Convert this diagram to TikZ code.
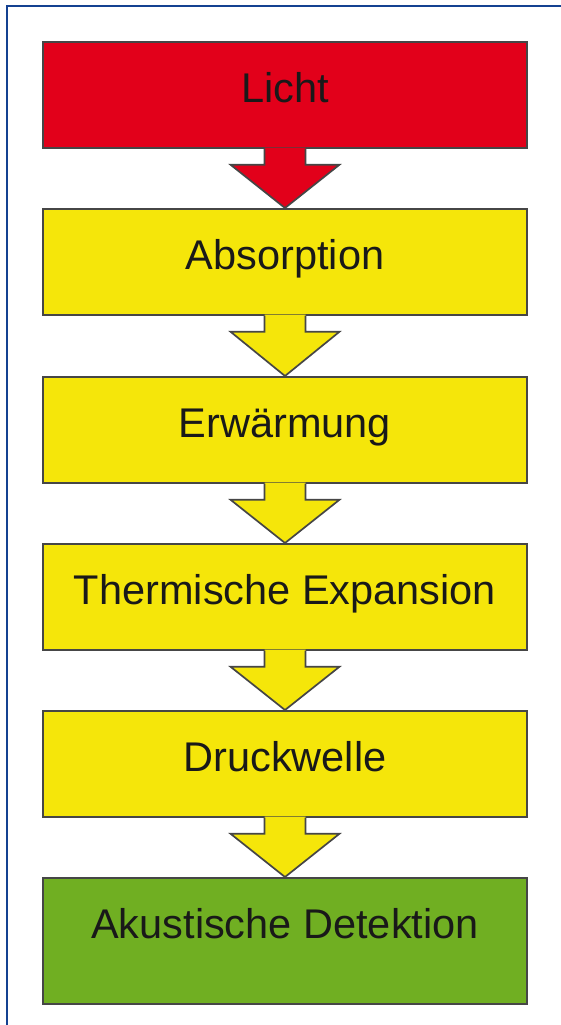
\documentclass[tikz,border=0pt]{standalone}
\usepackage{fontspec}
\setmainfont{Liberation Sans}
\usetikzlibrary{calc}
\definecolor{boxred}{RGB}{226,0,26}
\definecolor{boxyellow}{RGB}{245,230,10}
\definecolor{boxgreen}{RGB}{112,175,34}
\definecolor{framebl}{RGB}{20,65,145}
\definecolor{edgegray}{RGB}{70,70,70}
\definecolor{txt}{RGB}{25,25,25}
\newcommand{\blockarrow}[3]{%
  \path[fill=#3] ($(#1.south)+(-20.5,-1.2)$) -- ($(#1.south)+(-20.5,16)$) -- ($(#1.south)+(-54.5,16)$) -- (#2.north) -- ($(#1.south)+(54.5,16)$) -- ($(#1.south)+(20.5,16)$) -- ($(#1.south)+(20.5,-1.2)$) -- cycle;
  \draw[edge] ($(#1.south)+(-20.5,0)$) -- ($(#1.south)+(-20.5,16)$) -- ($(#1.south)+(-54.5,16)$) -- (#2.north) -- ($(#1.south)+(54.5,16)$) -- ($(#1.south)+(20.5,16)$) -- ($(#1.south)+(20.5,0)$);
}
\tikzset{
  stepbox/.style={draw=edgegray, line width=1.7pt, rectangle, anchor=north,
    minimum width=484pt, minimum height=106pt, inner sep=0pt,
    text height=61pt, text depth=45pt, text=txt,
    font=\fontsize{41.5}{48}\selectfont},
  edge/.style={draw=edgegray, line width=1.7pt, line join=miter},
  frame/.style={draw=framebl, line width=2.6pt}
}
\begin{document}
\begin{tikzpicture}[x=1pt,y=-1pt]
\useasboundingbox (0,0) rectangle (560,1025);
\fill[white] (0,0) rectangle (560,1025);
\draw[frame] (7,1026) -- (7,6) -- (561,6);

\node[stepbox, fill=boxred] (licht) at (285,41) {Licht};
\node[stepbox, fill=boxyellow] (absorption) at (285,208) {Absorption};
\node[stepbox, fill=boxyellow] (erwaermung) at (285,376) {Erwärmung};
\node[stepbox, fill=boxyellow] (thermisch) at (285,543) {Thermische Expansion};
\node[stepbox, fill=boxyellow] (druck) at (285,710) {Druckwelle};
\node[stepbox, fill=boxgreen, minimum height=126pt, text depth=65pt] (akustik) at (285,877) {Akustische Detektion};

\blockarrow{licht}{absorption}{boxred}
\blockarrow{absorption}{erwaermung}{boxyellow}
\blockarrow{erwaermung}{thermisch}{boxyellow}
\blockarrow{thermisch}{druck}{boxyellow}
\blockarrow{druck}{akustik}{boxyellow}
\end{tikzpicture}
\end{document}
